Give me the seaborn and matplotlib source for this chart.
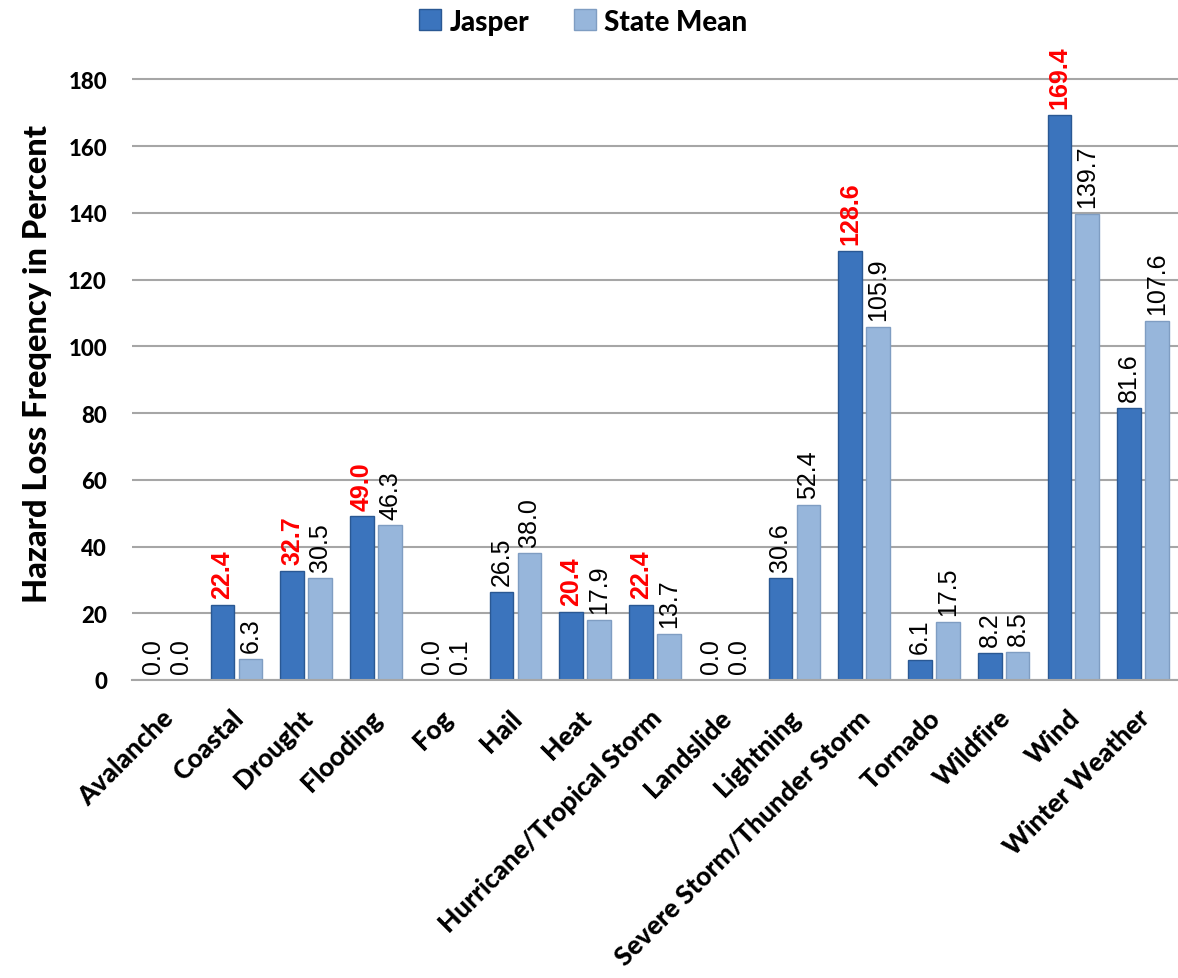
import matplotlib
matplotlib.use("Agg")
import matplotlib.pyplot as plt
import matplotlib.transforms as mtransforms
import seaborn as sns
import pandas as pd
import numpy as np
from matplotlib.patches import Patch

categories = ["Avalanche", "Coastal", "Drought", "Flooding", "Fog", "Hail", "Heat",
              "Hurricane/Tropical Storm", "Landslide", "Lightning",
              "Severe Storm/Thunder Storm", "Tornado", "Wildfire", "Wind", "Winter Weather"]
jasper = [0.0, 22.4, 32.7, 49.0, 0.0, 26.5, 20.4, 22.4, 0.0, 30.6, 128.6, 6.1, 8.2, 169.4, 81.6]
state_mean = [0.0, 6.3, 30.5, 46.3, 0.1, 38.0, 17.9, 13.7, 0.0, 52.4, 105.9, 17.5, 8.5, 139.7, 107.6]
series_names = ["Jasper", "State Mean"]
yticks = [0, 20, 40, 60, 80, 100, 120, 140, 160, 180]

df = pd.DataFrame({
    "Hazard": categories * 2,
    "Series": [series_names[0]] * len(categories) + [series_names[1]] * len(categories),
    "Value": jasper + state_mean,
})

sns.set_theme(style="white")
plt.rcParams['font.family'] = ['Lato', 'DejaVu Sans']
plt.rcParams['text.color'] = 'black'
plt.rcParams['xtick.color'] = 'black'
plt.rcParams['ytick.color'] = 'black'
plt.rcParams['axes.labelcolor'] = 'black'

colors = {"Jasper": "#3b74bd", "State Mean": "#97b6db"}
edges = {"Jasper": "#2a5893", "State Mean": "#7f9dc2"}

fig = plt.figure(figsize=(11.78, 9.79), dpi=100)
ax = fig.add_axes([0.112, 0.3044, 0.888, 0.6476])

sns.barplot(data=df, x="Hazard", y="Value", hue="Series", order=categories,
            hue_order=series_names, palette=colors, width=0.8, gap=0.15,
            ax=ax, legend=False, saturation=1, errorbar=None)

for cont, name in zip(ax.containers, series_names):
    for p in cont:
        p.set_edgecolor(edges[name])
        p.set_linewidth(1.0)

ax.set_ylim(0, 190)
ax.set_xlim(-0.5, 14.5)
ax.set_yticks(yticks)
ax.set_yticklabels([str(t) for t in yticks], fontsize=16, fontweight="black")
ax.yaxis.grid(True, color="#a6a6a6", linewidth=1.5)
ax.set_axisbelow(True)
for s in ["top", "right", "left"]:
    ax.spines[s].set_visible(False)
ax.spines["bottom"].set_color("#a6a6a6")
ax.spines["bottom"].set_linewidth(1.5)
ax.tick_params(axis="y", length=0, pad=18)
ax.tick_params(axis="x", length=0, pad=18)
ax.set_xticks(range(len(categories)))
ax.set_xticklabels(categories, rotation=45, ha="right", va="top",
                   rotation_mode="anchor", fontsize=19, fontweight="black")
shift = mtransforms.ScaledTranslation(-6 / 100, 0, fig.dpi_scale_trans)
for lbl in ax.get_xticklabels():
    lbl.set_transform(lbl.get_transform() + shift)
ax.set_xlabel("")
ax.set_ylabel("Hazard Loss Freqency in Percent", fontsize=23.5, fontweight="black", labelpad=12)

# data labels
j_cont, s_cont = ax.containers[0], ax.containers[1]
lab_font = ["Liberation Sans", "DejaVu Sans"]
j_texts = ax.bar_label(j_cont, labels=[f"{v:.1f}" for v in jasper], rotation=90,
                       padding=5, fontsize=18, family=lab_font)
for t, jv, sv in zip(j_texts, jasper, state_mean):
    if jv > sv:
        t.set_color("#ff0000")
        t.set_fontweight("bold")
    else:
        t.set_color("black")
s_texts = ax.bar_label(s_cont, labels=[f"{v:.1f}" for v in state_mean], rotation=90,
                       padding=5, fontsize=18, family=lab_font)
for t in s_texts:
    t.set_color("black")

handles = [Patch(facecolor=colors[n], edgecolor=edges[n], label=n) for n in series_names]
fig.legend(handles=handles, loc="center", bbox_to_anchor=(0.495, 0.977), ncol=2,
           frameon=False, prop={"weight": "black", "size": 20}, handlelength=0.8,
           handleheight=0.8, handletextpad=0.3, columnspacing=1.6)

fig.savefig("out.png", dpi=100)
